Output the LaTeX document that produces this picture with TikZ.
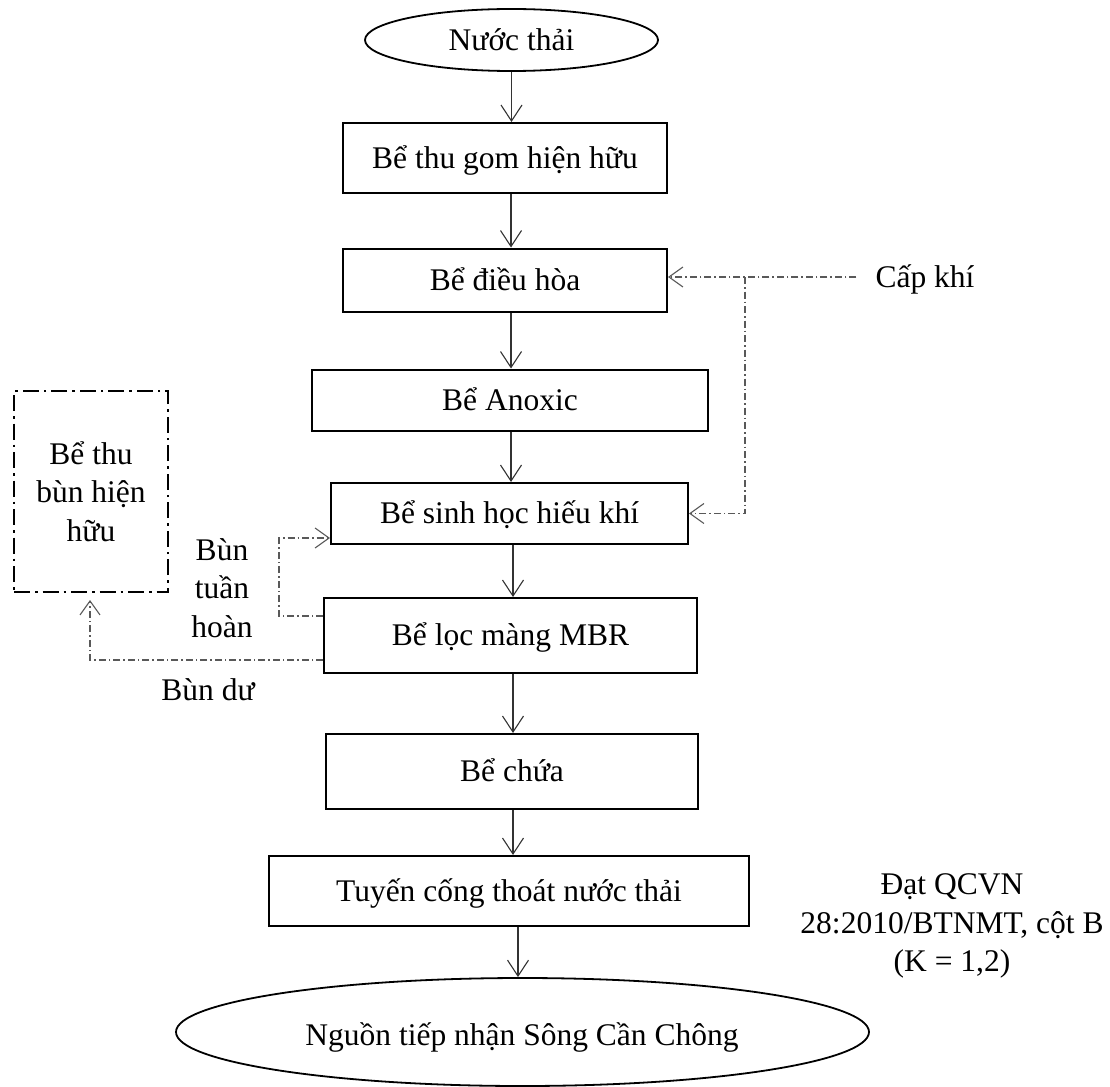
\documentclass[tikz,border=0pt]{standalone}
\usepackage{fontspec}
\setmainfont{Liberation Serif}
\usetikzlibrary{shapes.geometric,arrows.meta}

\tikzset{
  basefont/.style={font=\fontsize{31.5}{38.5}\selectfont},
  onetext/.style={basefont, text height=28.4pt, text depth=7.5pt},
  tank/.style={draw, line width=2pt, rectangle, inner sep=0pt, onetext},
  terminal/.style={draw, line width=1.8pt, ellipse, inner sep=0pt, onetext},
  label/.style={basefont, inner sep=0pt, align=center},
  flow/.style={draw=black!80, line width=1.1pt, -{Straight Barb[length=16pt,width=21pt]}},
  aux/.style={draw=black!65, line width=1.1pt,
    dash pattern=on 7pt off 3pt on 1.5pt off 3pt,
    -{Straight Barb[length=14pt,width=20pt]}},
  storebox/.style={draw, line width=2pt, rectangle, inner sep=0pt, basefont, align=center,
    dash pattern=on 16pt off 5pt on 2.5pt off 5pt},
}

\begin{document}
\begin{tikzpicture}[x=1pt, y=-1pt]
  \clip (0,0) rectangle (1110,1086);
  \fill[white] (0,0) rectangle (1110,1086);

  % process chain
  \node[terminal, minimum width=293, minimum height=62] (n0) at (511.5,40) {Nước thải};
  \node[tank, minimum width=324, minimum height=70] (b1) at (505,158) {Bể thu gom hiện hữu};
  \node[tank, minimum width=324, minimum height=63] (b2) at (505,280) {Bể điều hòa};
  \node[tank, minimum width=396, minimum height=61] (b3) at (510,400) {Bể Anoxic};
  \node[tank, minimum width=357, minimum height=61] (b4) at (509.5,513.5) {Bể sinh học hiếu khí};
  \node[tank, minimum width=373, minimum height=75] (b5) at (510.5,635.5) {Bể lọc màng MBR};
  \node[tank, minimum width=372, minimum height=75] (b6) at (512,771.5) {Bể chứa};
  \node[tank, minimum width=480, minimum height=70] (b7) at (509,891) {Tuyến cống thoát nước thải};
  \node[terminal, minimum width=693, minimum height=108] (n8) at (522.5,1032) {};
  \node[onetext, inner sep=0pt] (n8t) at (522,1035) {Nguồn tiếp nhận Sông Cần Chông};

  % sludge holding tank
  \node[storebox, minimum width=154, minimum height=201] (sl) at (91,491.5) {Bể thu\\bùn hiện\\hữu};

  % side labels
  \node[onetext, inner sep=0pt] (ck) at (925,277) {Cấp khí};
  \node[label] (rl) at (222,588) {Bùn\\tuần\\hoàn};
  \node[onetext, inner sep=0pt] (el) at (208,690) {Bùn dư};
  \node[label] (std) at (952,926) {Đạt QCVN\\28:2010/BTNMT, cột B\\(K = 1,2)};

  % main flow arrows
  \coordinate (x1) at (511,0);
  \coordinate (x2) at (513,0);
  \coordinate (x3) at (518,0);
  \draw[flow] (n0.south) -- (b1.north -| n0.south);
  \draw[flow] (b1.south -| x1) -- (b2.north -| x1);
  \draw[flow] (b2.south -| x1) -- (b3.north -| x1);
  \draw[flow] (b3.south -| x1) -- (b4.north -| x1);
  \draw[flow] (b4.south -| x2) -- (b5.north -| x2);
  \draw[flow] (b5.south -| x2) -- (b6.north -| x2);
  \draw[flow] (b6.south -| x2) -- (b7.north -| x2);
  \draw[flow] (b7.south -| x3) -- (n8.north -| x3);

  % air supply
  \coordinate (j) at (745,277);
  \draw[aux, shorten <=19pt] (ck.west) -- (ck.west -| b2.east);
  \draw[aux] (j) |- (b4.east);

  % return sludge
  \coordinate (r1) at (279,616);
  \coordinate (r2) at (279,538);
  \draw[aux] (b5.west |- r1) -- (r1) -- (r2) -- (r2 -| b4.west);

  % excess sludge
  \coordinate (e1) at (90,660);
  \draw[aux, shorten >=7pt] (b5.west |- e1) -- (e1) -- (e1 |- sl.south);
\end{tikzpicture}
\end{document}
